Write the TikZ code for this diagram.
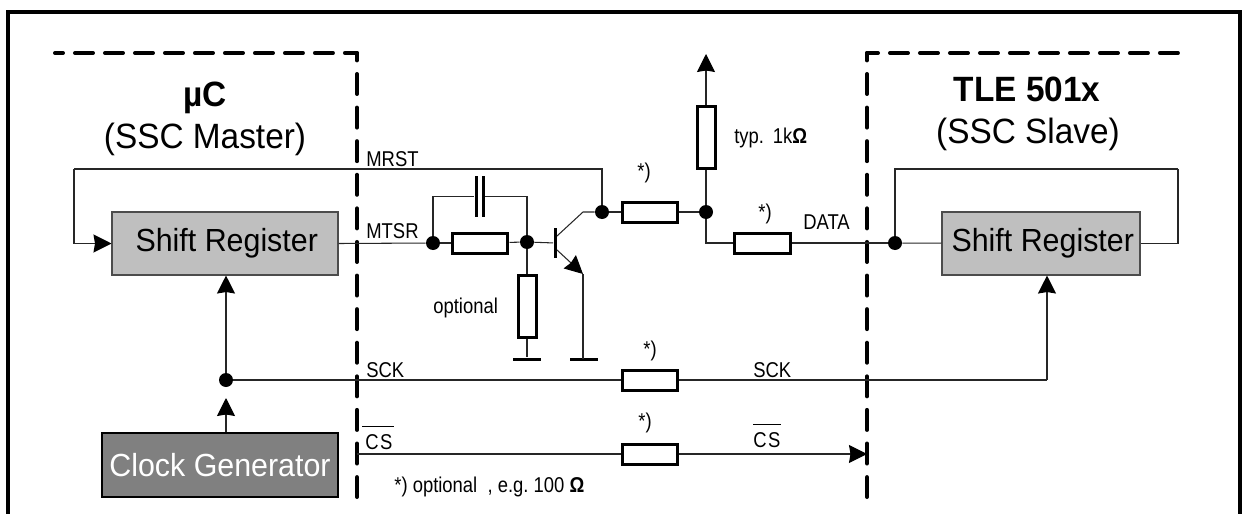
\documentclass[tikz,border=0pt]{standalone}
\usepackage{fontspec}
\setmainfont[FakeStretch=0.95]{Liberation Sans}
\newfontfamily\narrowfont[FakeStretch=0.86]{Liberation Sans}
\usetikzlibrary{arrows.meta}
\newcommand{\barlabel}[3]{\rlap{\hspace{#1}\rule[1.02em]{#2}{0.85pt}}#3}
\tikzset{
    wire/.style={line width=0.6pt, black!85},
    arrowwire/.style={wire, -{Stealth[black, length=0.36cm, width=0.36cm, inset=0.03cm]}},
    regbox/.style={draw=black!70, line width=0.6pt, rectangle, fill=black!25, minimum height=1.26cm, inner sep=0pt, font=\fontsize{18.2}{20}\selectfont},
    clockbox/.style={draw=black, line width=0.6pt, rectangle, fill=black!50, text=white, minimum width=4.72cm, minimum height=1.28cm, inner sep=0pt, font=\fontsize{18.2}{20}\selectfont},
    hres/.style={draw, line width=0.06cm, rectangle, minimum width=1.12cm, minimum height=0.4cm, inner sep=0pt},
    vres/.style={draw, line width=0.06cm, rectangle, minimum width=0.36cm, minimum height=1.24cm, inner sep=0pt},
    junction/.style={circle, fill=black, minimum size=0.28cm, inner sep=0pt},
    plate/.style={rectangle, fill=black, minimum width=0.06cm, minimum height=0.82cm, inner sep=0pt},
    basebar/.style={rectangle, fill=black, minimum width=0.06cm, minimum height=0.6cm, inner sep=0pt},
    gndbar/.style={rectangle, fill=black, minimum width=0.56cm, minimum height=0.06cm, inner sep=0pt},
    sig/.style={anchor=base west, inner sep=0pt, font=\narrowfont\fontsize{12.2}{14}\selectfont},
    head/.style={anchor=base, inner sep=0pt, font=\fontsize{20}{24}\selectfont},
    frameline/.style={line width=0.08cm},
    dashtop/.style={line width=0.08cm, line cap=round, dash pattern=on 0.36cm off 0.24cm},
    dashside/.style={line width=0.08cm, line cap=round, dash pattern=on 0.4cm off 0.272cm, dash phase=0.252cm},
}

\begin{document}
\begin{tikzpicture}[x=0.02cm, y=-0.02cm]
    \useasboundingbox (0,0) rectangle (1242,514);

    % Outer frame
    \draw[frameline] (8,514) |- (1240,12) -- (1240,514);

    % Dashed borders
    \draw[dashtop, dash phase=0.2cm] (55,53) -- (357,53);
    \draw[dashside] (357,53) -- (357,497);
    \draw[dashtop, dash phase=0.14cm] (867,53) -- (1178,53);
    \draw[dashside] (867,53) -- (867,497);

    % Titles
    \node[head] (MasterName) at (205,106) {\textbf{µC}};
    \node[head] (MasterRole) at (205,148) {(SSC Master)};
    \node[head] (SlaveName) at (1027,101) {\textbf{TLE 501x}};
    \node[head] (SlaveRole) at (1028,143) {(SSC Slave)};

    % Boxes
    \node[regbox, minimum width=4.52cm] (RegMaster) at (225,243.5) {\kern2pt Shift Register};
    \node[regbox, minimum width=3.96cm] (RegSlave) at (1041,243.5) {\kern2pt Shift Register};
    \node[clockbox] (Clock) at (220,465) {Clock Generator};

    % Resistors
    \node[hres] (ResBase) at (480,243) {};
    \node[vres] (ResOpt) at (527,306.5) {};
    \node[hres] (ResColl) at (650,212) {};
    \node[vres] (ResPull) at (706,137.5) {};
    \node[hres] (ResData) at (762.5,243) {};
    \node[hres] (ResSck) at (650,380) {};
    \node[hres] (ResCs) at (650,454) {};

    % Capacitor plates
    \node[plate] (CapL) at (476,196.5) {};
    \node[plate] (CapR) at (483,196.5) {};

    % Junctions
    \node[junction] (JFeed) at (433,243) {};
    \node[junction] (JBase) at (527,242) {};
    \node[junction] (JColl) at (602,212) {};
    \node[junction] (JPull) at (706,212) {};
    \node[junction] (JSlave) at (895,243) {};
    \node[junction] (JClock) at (226,380) {};

    % Transistor and grounds
    \node[basebar] (QBar) at (555,243) {};
    \node[gndbar] (GndOpt) at (527,359) {};
    \node[gndbar] (GndEmit) at (584,359) {};

    % Corner points
    \coordinate (LoopMaster) at (74,169);
    \coordinate (LoopSlave) at (1178,169);
    \coordinate (CollIn) at (557,236);
    \coordinate (CollOut) at (583,212);
    \coordinate (EmitIn) at (557,250);
    \coordinate (EmitOut) at (583,274);
    \coordinate (Supply) at (706,54);
    \coordinate (ClockTip) at (226,398);
    \coordinate (CsStart) at (357,454);
    \coordinate (CsEnd) at (867,454);
    \coordinate (SckSlave) at (1047,380);

    % MRST and MTSR
    \draw[wire] (JColl) |- (LoopMaster);
    \draw[arrowwire] (LoopMaster) |- (RegMaster.west);
    \draw[wire] (RegMaster.east) -- (JFeed);
    \draw[wire] (JFeed) -- (ResBase);
    \draw[wire] (ResBase) -- (JBase);
    \draw[wire] (JBase) -- (QBar);
    \draw[wire] (JFeed) |- (CapL);
    \draw[wire] (JBase) |- (CapR);
    \draw[wire] (JBase) -- (ResOpt);
    \draw[wire] (ResOpt) -- (GndOpt);

    % Transistor
    \draw[wire] (CollIn) -- (CollOut) -- (JColl);
    \draw[arrowwire] (EmitIn) -- (EmitOut);
    \draw[wire] (EmitOut) -- (EmitOut |- GndEmit);

    % DATA
    \draw[wire] (JColl) -- (ResColl);
    \draw[wire] (ResColl) -- (JPull);
    \draw[wire] (JPull) -- (ResPull);
    \draw[arrowwire] (ResPull) -- (Supply);
    \draw[wire] (JPull) |- (ResData);
    \draw[wire] (ResData) -- (JSlave);
    \draw[wire] (JSlave) -- (RegSlave);
    \draw[wire] (JSlave) |- (LoopSlave);
    \draw[wire] (LoopSlave) |- (RegSlave.east);

    % SCK
    \draw[arrowwire] (Clock.north -| ClockTip) -- (ClockTip);
    \draw[arrowwire] (JClock) -- (JClock |- RegMaster.south);
    \draw[wire] (JClock) -- (ResSck);
    \draw[wire] (ResSck) -| (SckSlave);
    \draw[arrowwire] (SckSlave) -- (SckSlave |- RegSlave.south);

    % CS
    \draw[wire] (CsStart) -- (ResCs);
    \draw[arrowwire] (ResCs) -- (CsEnd);

    % Labels
    \node[sig] (LblMrst) at (366,166) {MRST};
    \node[sig] (LblMtsr) at (366,238) {MTSR};
    \node[sig] (LblSck) at (366,377) {SCK};
    \node[sig] (LblCs) at (365,449) {\barlabel{-1.7pt}{18.2pt}{C\kern0.8pt S}};
    \node[sig] (LblData) at (803,229) {DATA};
    \node[sig] (LblSckS) at (753,377) {SCK};
    \node[sig] (LblCsS) at (753,447) {\barlabel{0pt}{16pt}{C\kern0.8pt S}};
    \node[sig] (LblColl) at (637,178) {*)};
    \node[sig] (LblRes) at (758,219) {*)};
    \node[sig] (LblRSck) at (643,356) {*)};
    \node[sig] (LblRCs) at (638,428) {*)};
    \node[sig] (LblTyp) at (734,143) {typ.\ \,1k\textbf{Ω}};
    \node[sig] (LblOpt) at (433,313) {optional};
    \node[sig] (LblNote) at (394,492) {*) optional\ \ , e.g.\ 100 \textbf{Ω}};
\end{tikzpicture}
\end{document}
